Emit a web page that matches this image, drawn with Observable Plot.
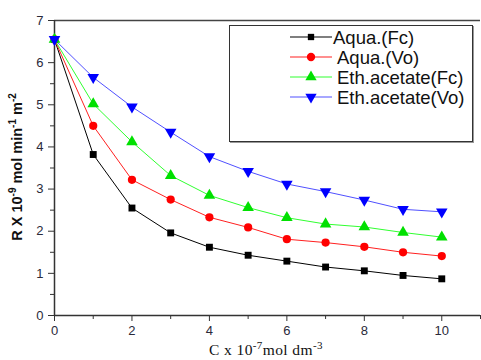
<!DOCTYPE html>
<html><head><meta charset="utf-8">
<script src="https://cdn.jsdelivr.net/npm/d3@7"></script>
<script src="https://cdn.jsdelivr.net/npm/@observablehq/plot@0.6"></script>
<style>
body{margin:0;background:#fff;}
#wrap{position:relative;width:481px;height:360px;overflow:hidden;background:#fff;}
#wrap svg{position:absolute;left:0;top:0;}
#legend{position:absolute;left:229px;top:25px;width:242px;height:115px;border:1.5px solid #333;background:#fff;box-shadow:1px 1px 0 #999;}
</style>
</head><body>
<div id="wrap"></div>
<script>
const concentrations = [0,1,2,3,4,5,6,7,8,9,10];
const seriesNames = ["Aqua.(Fc)","Aqua.(Vo)","Eth.acetate(Fc)","Eth.acetate(Vo)"];
const aquaFc = [6.55,3.82,2.55,1.96,1.62,1.43,1.29,1.15,1.06,0.95,0.87];
const aquaVo = [6.55,4.50,3.22,2.75,2.33,2.09,1.81,1.73,1.63,1.50,1.41];
const ethFc  = [6.55,5.02,4.12,3.32,2.85,2.56,2.32,2.17,2.10,1.97,1.86];
const ethVo  = [6.55,5.65,4.95,4.35,3.77,3.42,3.12,2.94,2.74,2.52,2.46];
const xTicks = [0,2,4,6,8,10];
const yTicks = [0,1,2,3,4,5,6,7];
const lineColors = ["#000000","#ff2020","#30ff30","#5050ff"];
const markColors = ["#000000","#ff0000","#00e000","#0000ff"];

const sqrt3 = Math.sqrt(3);
const triDown = {draw(context, size){
  const y = -Math.sqrt(size / (sqrt3 * 3));
  context.moveTo(0, -y * 2);
  context.lineTo(-sqrt3 * y, y);
  context.lineTo(sqrt3 * y, y);
  context.closePath();
}};
const symbols = ["square","circle","triangle",triDown];
const d3symbols = [d3.symbolSquare, d3.symbolCircle, d3.symbolTriangle, triDown];

const allSeries = [aquaFc, aquaVo, ethFc, ethVo];
const data = [];
allSeries.forEach((vals, i) => vals.forEach((v, j) => data.push({x: concentrations[j], y: v, s: seriesNames[i], i})));

const minorX = [1,3,5,7,9,11];
const minorY = d3.range(0.5, 7, 1);

const chart = Plot.plot({
  width: 481, height: 360,
  marginLeft: 54, marginRight: 1, marginTop: 20, marginBottom: 45,
  x: {domain: [0, 11]},
  y: {domain: [0, 7]},
  style: {fontFamily: "'Liberation Sans', Arial, sans-serif", fontSize: "13px", color: "#2a2a3a", background: "transparent"},
  marks: [
    Plot.ruleY([7], {stroke: "#444", strokeWidth: 1.5}),
    Plot.axisX({ticks: xTicks, tickSize: 6, tickPadding: 4, tickFormat: d => d, label: null, stroke: "#333"}),
    Plot.axisX({ticks: minorX, tickSize: 4, tickFormat: () => "", label: null, stroke: "#333"}),
    Plot.axisY({ticks: yTicks, tickSize: 6, tickPadding: 5, tickFormat: d => d, label: null, stroke: "#333"}),
    Plot.axisY({ticks: minorY, tickSize: 4, tickFormat: () => "", label: null, stroke: "#333"}),
    Plot.ruleX([0], {stroke: "#333", strokeWidth: 1.5}),
    Plot.ruleY([0], {stroke: "#333", strokeWidth: 1.5}),
    ...allSeries.map((vals, i) => Plot.line(data.filter(d => d.i === i), {x: "x", y: "y", stroke: lineColors[i], strokeWidth: 1})),
    ...allSeries.map((vals, i) => Plot.dot(data.filter(d => d.i === i), {x: "x", y: "y", fill: markColors[i], stroke: "none", r: i === 0 ? 3.9 : (i === 1 ? 4.1 : 4.3), symbol: symbols[i]}))
  ]
});
const wrap = document.getElementById("wrap");
wrap.appendChild(chart);

const svg = d3.select(chart);
// y label
const yl = svg.append("text")
  .attr("transform", "translate(22,167) rotate(-90)")
  .attr("text-anchor", "middle")
  .attr("font-family", "'Liberation Sans', Arial, sans-serif")
  .attr("font-weight", "bold").attr("font-size", 14.5).attr("fill", "#111");
yl.append("tspan").text("R X 10");
yl.append("tspan").attr("dy", -6).attr("font-size", 10).text("-9");
yl.append("tspan").attr("dy", 6).text(" mol min");
yl.append("tspan").attr("dy", -6).attr("font-size", 10).text("-1");
yl.append("tspan").attr("dy", 6).text(" m");
yl.append("tspan").attr("dy", -6).attr("font-size", 10).text("-2");
// x label
const xl = svg.append("text")
  .attr("x", 266).attr("y", 355)
  .attr("text-anchor", "middle")
  .attr("font-family", "'Liberation Serif', 'Times New Roman', serif")
  .attr("font-size", 15.5).attr("letter-spacing", "0.4px").attr("fill", "#111");
xl.append("tspan").text("C x 10");
xl.append("tspan").attr("dy", -6).attr("font-size", 11).text("-7");
xl.append("tspan").attr("dy", 6).text("mol dm");
xl.append("tspan").attr("dy", -6).attr("font-size", 11).text("-3");

// legend
const leg = d3.select(wrap).append("div").attr("id", "legend");
const lsvg = leg.append("svg").attr("width", 242).attr("height", 115).style("position", "absolute").style("left", "0").style("top", "0");
seriesNames.forEach((name, i) => {
  const cy = 11 + i * 20;
  lsvg.append("line").attr("x1", 60).attr("x2", 102).attr("y1", cy).attr("y2", cy).attr("stroke", lineColors[i]).attr("stroke-width", 1.2);
  lsvg.append("path").attr("transform", `translate(81,${cy})`).attr("d", d3.symbol(d3symbols[i], i === 0 ? 40 : 55)()).attr("fill", markColors[i]);
  lsvg.append("text").attr("x", i === 0 ? 103 : 107).attr("y", cy + 6.5)
    .attr("font-family", "'Liberation Sans', Arial, sans-serif").attr("font-size", 18.5).attr("fill", "#111").text(name);
});
</script>
</body></html>
